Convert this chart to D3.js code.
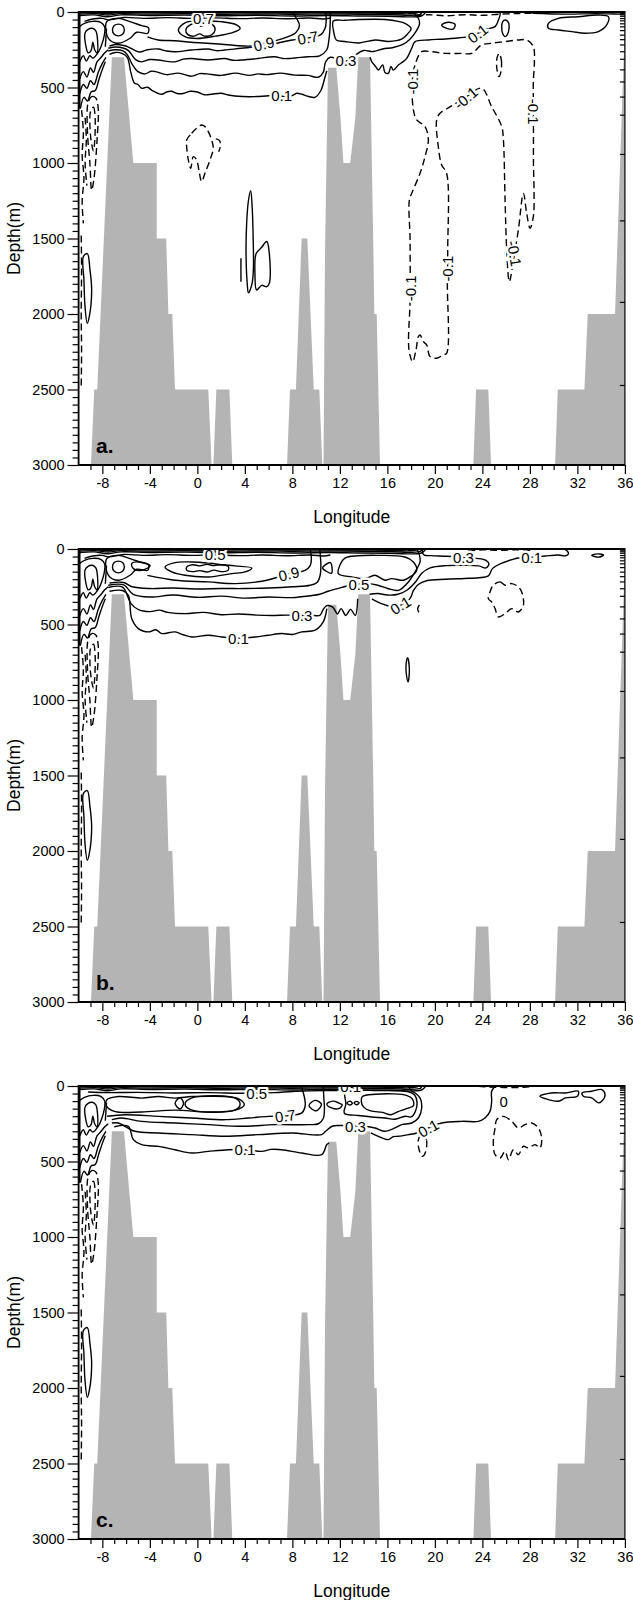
<!DOCTYPE html>
<html>
<head>
<meta charset="utf-8">
<title>Sections</title>
<script src="https://cdn.jsdelivr.net/npm/d3@7"></script>
<style>
body { margin: 0; background: #fff; }
text { font-family: "Liberation Sans", Arial, Helvetica, sans-serif; fill: #000; }
.topo { fill: #b4b4b4; stroke: none; }
.cl { fill: none; stroke: #000; stroke-width: 1.4px; stroke-linejoin: round; }
.cl.dash { stroke-dasharray: 7,4; }
.lab { font-size: 15px; paint-order: stroke; stroke: #fff; stroke-width: 5px; stroke-linejoin: round; }
.tick text { font-size: 14.5px; }
.axis path.domain { display: none; }
.axis line { stroke: #000; stroke-width: 1.2px; }
.spine { stroke: #000; fill: none; }
.title { font-size: 17.5px; }
.tag { font-size: 21px; font-weight: bold; }
</style>
</head>
<body>
<svg id="fig" width="633" height="1600"></svg>
<script>
// ---- ticks ----
var lonMajor = [-8, -4, 0, 4, 8, 12, 16, 20, 24, 28, 32, 36];
var depthMajor = [0, 500, 1000, 1500, 2000, 2500, 3000];
var levelTicks = [5, 15, 25, 40, 55, 75, 95, 120, 150, 180, 215, 260, 310, 380, 460, 560, 680, 940, 1380, 1920, 2470];

// ---- bottom topography (lon, depth) ----
var topo = [[-8.96,3000],[-8.68,2500],[-8.43,2500],[-7.2,300],[-6.18,300],[-5.39,1000],[-3.42,1000],
  [-3.42,1500],[-2.62,1500],[-2.44,2000],[-2.11,2000],[-1.88,2500],[0.92,2500],[1.2,3000],[1.35,3000],
  [1.6,2500],[2.7,2500],[2.94,3000],[7.55,3000],[7.8,2500],[8.3,2500],[8.78,1500],[9.26,1500],[9.8,2500],
  [10.27,2500],[10.52,3000],[10.62,3000],[10.75,1576],[11.0,370],[11.7,370],[12.05,700],[12.3,1000],
  [12.87,1000],[13.3,700],[13.55,300],[14.54,300],[14.82,1576],[14.9,2000],[15.1,2000],[15.38,3000],
  [23.24,3000],[23.47,2500],[24.5,2500],[24.73,3000],[30.12,3000],[30.35,2500],[32.59,2500],[32.87,2000],
  [35.17,2000],[35.35,1576],[36,60],[36,3000]];

// ---- contours shared by the three sections ----
var surfL1 = [[-9.9,6],[-8.5,5],[-7.4,11],[-6.6,4],[-5,6],[-2,5],[1,7],[4,5],[7,7],[10,5],[13,7],[16,8],[17.8,12],[18.5,6],[18.6,0]];
var surfL2 = [[-9.9,14],[-8.6,11],[-7.5,20],[-6.5,11],[-4.5,14],[-1,12],[2,15],[5,13],[8,15],[11,13],[14,15],[16.5,18],[17.9,22],[18.8,14],[18.9,0]];
var surfL3 = [[-9.9,24],[-8.7,19],[-7.6,31],[-6.4,19],[-4,23],[-1,21],[2,25],[5,22],[8,26],[11,23],[13.5,26],[16,28],[17.7,32],[18.8,28],[19.1,14],[19.2,0]];
var surfL4 = [[-9.5,62],[-8.8,46],[-8.0,42],[-7.5,52],[-6.2,36],[-4.5,42],[-2.5,37],[-0.5,42],[1.5,39],[3.5,44],[5.5,40],[7.5,45],[9.5,40],[10.6,46],[11.2,40]];
var coastWall = [[-9.93,0],[-9.93,640]];
var coastLoop = [[-9.46,140],[-9.2,115],[-8.85,108],[-8.55,125],[-8.4,190],[-8.45,270],[-8.65,250],[-8.8,200],[-8.95,255],[-9.2,270],[-9.4,220]];
var coastZ1 = [[-9.9,330],[-9.6,290],[-9.35,325],[-9.05,290],[-8.8,305],[-8.3,260],[-8.05,215],[-7.85,160],[-7.8,100],[-8.1,70],[-8.8,62],[-9.5,75],[-9.9,95]];
var coastZ2 = [[-9.9,440],[-9.6,395],[-9.3,430],[-9.0,370],[-8.75,400],[-8.45,330],[-8.1,300],[-7.8,270],[-7.5,250]];
var coastZ3 = [[-9.9,540],[-9.6,480],[-9.3,505],[-9.0,455],[-8.7,480],[-8.35,400],[-8.0,340],[-7.7,300]];
var coastZ4 = [[-9.85,640],[-9.55,565],[-9.25,590],[-8.95,530],[-8.6,520],[-8.3,450],[-8.0,380],[-7.75,330]];
var coastV = [[-7.65,110],[-7.7,170],[-7.75,230]];
var coastD1 = [[-9.2,600],[-8.9,560],[-8.55,570],[-8.35,640],[-8.45,850],[-8.7,1100],[-8.9,1180],[-9.05,1000],[-9.25,800]];
var coastD2 = [[-9.0,660],[-8.75,630],[-8.6,720],[-8.75,920],[-8.95,850],[-9.05,740]];
var coastD3 = [[-9.75,650],[-9.6,800],[-9.7,950],[-9.55,1100],[-9.7,1250],[-9.6,1400]];
var coastD4 = [[-9.78,1480],[-9.75,1700],[-9.78,2000],[-9.75,2250],[-9.78,2480]];
var coastD5 = [[-9.45,700],[-9.35,850],[-9.45,1000],[-9.3,1150]];
var deepLoop = [[-9.6,1620],[-9.27,1600],[-9.04,1709],[-8.9,1841],[-9.1,2018],[-9.27,2062],[-9.46,1951],[-9.55,1775]];
var eddyIn = [[-6.65,80],[-6.3,90],[-6.15,119],[-6.3,148],[-6.65,158],[-7.0,148],[-7.15,119],[-7.0,90]];
var eddyRing = [[-7.63,64],[-6.65,42],[-5.67,64],[-4.69,90],[-4.12,104],[-4.18,141],[-5.11,134],[-5.67,174],[-6.65,207],[-7.49,174]];

// ---- section a ----
var a09 = [[-4.2,165],[-3.3,185],[-1.9,190],[-0.5,200],[1.5,210],[3.2,222],[4.6,225],[5.6,208],[6.5,192],[7.6,165],[8.3,135],[8.6,90],[8.4,50],[8.0,0]];
var a07 = [[-7.4,225],[-6.9,215],[-6.2,222],[-5.8,232],[-4.9,265],[-4.2,250],[-3.3,245],[-2.6,258],[-1.9,263],[-0.5,252],[0.9,245],[1.6,256],[2.3,252],[3.7,240],[4.8,232],[5.9,220],[6.8,205],[8.0,185],[9.0,176],[9.8,165],[10.4,150],[10.75,110],[10.85,60],[10.8,0]];
var a05 = [[-7.5,240],[-6.9,232],[-6.2,240],[-5.8,256],[-5.2,315],[-4.7,330],[-4.0,315],[-3.3,318],[-1.9,330],[-1.2,312],[-0.5,308],[0.9,318],[2.3,308],[3.0,320],[3.7,318],[5.1,308],[6.5,296],[7.2,308],[7.9,307],[9.3,296],[10.3,290],[10.9,250],[11.05,200],[11.15,130],[11.2,40],[11.2,0]];
var a03 = [[-7.5,258],[-6.9,250],[-6.3,256],[-5.9,282],[-5.5,345],[-5.0,395],[-4.4,410],[-3.9,392],[-3.5,395],[-2.6,415],[-1.6,405],[-0.5,425],[0.2,408],[0.8,410],[2.0,420],[3.2,405],[4.4,420],[5.1,410],[5.8,415],[7.0,405],[8.2,418],[9.3,420],[10.2,432],[10.6,400],[10.8,330],[11.2,300],[12.0,318],[12.8,322],[13.4,280],[14.0,255],[14.8,262],[15.6,245],[16.5,235],[17.3,215],[17.9,180],[18.4,130],[18.7,80],[18.6,40],[18.3,15],[18.0,0]];
var a01 = [[-7.4,280],[-6.9,268],[-6.3,275],[-5.9,300],[-5.6,400],[-5.3,470],[-5.0,480],[-4.7,505],[-4.2,498],[-3.8,520],[-3.0,545],[-2.6,530],[-2.2,525],[-1.7,540],[-1.2,540],[-0.6,525],[0.0,530],[0.6,548],[1.2,545],[2.0,538],[2.6,550],[3.8,560],[5.0,560],[6.0,555],[7.9,555],[8.4,538],[8.8,545],[9.3,558],[9.9,565],[10.4,520],[10.75,430],[10.9,390]];
var a01R = [[14.54,300],[14.68,329],[15.0,360],[15.24,384],[15.6,350],[15.8,400],[16.08,406],[16.3,360],[16.5,385],[16.93,351],[17.3,330],[17.63,307],[18.05,240],[18.33,196],[19.45,185],[20.5,180],[21.7,174],[22.82,163],[23.6,142],[24.3,115],[25.07,97],[25.35,53],[25.5,10],[25.4,0]];
var aEddyIn = [[-0.97,119],[-0.6,85],[0.0,78],[0.3,95],[0.7,78],[1.3,85],[1.49,119],[1.2,152],[0.6,160],[0.2,145],[-0.3,160],[-0.8,150]];
var aEddyOut = [[-1.6,119],[-1.0,70],[0.5,60],[2.0,64],[3.3,85],[3.6,110],[2.8,140],[1.5,160],[0.0,175],[-1.0,165]];
var aLoopR = [[11.45,60],[12.4,55],[13.6,50],[15.8,50],[16.9,62],[17.6,80],[18.0,110],[17.7,145],[17.2,180],[16.1,195],[15.0,185],[13.6,205],[12.4,195],[11.7,185],[11.5,140]];
var aSmall = [[20.57,86],[21.14,68],[21.7,82],[21.56,112],[21.0,108]];
var aZero = [[25.93,53],[26.2,70],[26.24,110],[26.1,150],[25.9,163],[25.7,140],[25.63,100],[25.7,65]];
var aLoopFar = [[29.56,75],[30.4,42],[32.08,31],[33.77,20],[34.61,31],[34.47,86],[33.77,130],[32.64,141],[31.52,130],[30.4,119],[29.56,108]];
var aTopR = [[28.2,8],[31,14],[33.5,11],[35.7,14],[36,14]];
var aTopDash = [[18.3,24],[19.5,18],[21,25],[22.5,18],[24,22],[25.5,14],[27,10],[28.2,8]];
var aDashEll = [[25.4,274],[25.6,320],[25.55,400],[25.4,428],[25.25,390],[25.2,320]];
var aBigDash = [[18.33,351],[18.89,263],[19.73,263],[20.85,274],[22.26,274],[23.10,274],[23.94,218],[24.78,207],[25.91,196],[27.03,185],[27.73,185],[28.29,229],[28.38,329],[28.29,461],[28.29,600],[28.3,800],[28.3,1000],[28.35,1200],[28.3,1350],[28.01,1432],[27.73,1333],[27.45,1201],[27.03,1443],[26.6,1650],[26.27,1786],[26.05,1576],[25.91,1245],[25.77,847],[25.63,759],[24.78,627],[23.94,505],[22.5,570],[21.3,627],[20.43,671],[20.15,715],[20.29,892],[20.57,1013],[20.99,1068],[21.08,1576],[21.05,1797],[20.99,2260],[20.71,2271],[20.15,2293],[19.59,2282],[19.31,2205],[19.03,2183],[18.75,2139],[18.61,2150],[18.41,2238],[18.13,2316],[17.82,2238],[17.91,1907],[17.91,1510],[17.85,1245],[18.05,1201],[18.75,1068],[19.17,958],[19.45,847],[19.17,759],[18.47,715],[18.19,649],[18.1,450]];
var aDeep1 = [[-0.90,847],[-0.48,803],[-0.06,770],[0.36,748],[0.64,759],[0.92,792],[1.20,847],[1.34,903],[1.06,980],[0.64,1068],[0.36,1123],[0.17,1068],[-0.06,980],[-0.34,958],[-0.56,1035],[-0.76,980],[-0.90,891]];
var aDeep2 = [[1.55,840],[1.85,850],[1.95,880],[1.8,925]];
var aThin1 = [[4.49,1183],[4.62,1300],[4.7,1500],[4.72,1700],[4.6,1800],[4.3,1860],[4.2,1800],[4.1,1600],[4.15,1400],[4.3,1250]];
var aThin2 = [[5.84,1520],[6.06,1600],[6.06,1797],[5.84,1819],[5.41,1810],[4.99,1841],[4.85,1731],[4.95,1600],[5.4,1560]];
var aShort = [[3.67,1631],[3.67,1786]];

// ---- section b ----
var bFish = [[-5.53,97],[-4.83,86],[-3.98,112],[-4.69,141],[-5.39,130]];
var bOuter = [[-2.72,119],[-1.88,90],[-0.48,86],[0.93,93],[2.05,104],[3.17,112],[4.58,126],[4.02,152],[2.89,163],[0.93,185],[-1.04,174],[-2.16,152]];
var bInner = [[-0.9,120],[-0.4,104],[0.2,112],[0.8,102],[1.4,110],[2.0,104],[2.6,115],[2.6,140],[2.0,150],[1.4,140],[0.8,152],[0.2,143],[-0.4,150],[-0.9,140]];
var bTri = [[10.55,125],[11.2,90],[11.3,160]];
var b09 = [[-4.2,175],[-1.88,207],[0.93,218],[3.17,229],[5.42,214],[6.54,192],[7.66,163],[9.07,141],[9.5,110],[9.6,60],[9.5,0]];
var b07 = [[-7.4,225],[-6.2,222],[-5.5,250],[-4,262],[-2,258],[0,265],[2,262],[4,262],[6,258],[8,250],[9.5,240],[10.1,220],[10.35,170],[10.4,100],[10.35,40],[10.3,0]];
var b05 = [[-7.5,240],[-6.2,238],[-5.4,300],[-4,318],[-2,305],[0,320],[2,312],[4,325],[6,318],[8,322],[9.5,310],[10.3,300],[11.0,280],[11.8,262],[12.6,245],[13.6,232],[14.4,229],[15.2,240],[16.08,263],[16.93,274],[17.77,218],[18.33,152],[18.75,86],[18.7,40],[18.5,0]];
var b03 = [[-7.5,255],[-6.3,252],[-5.6,360],[-5.0,400],[-4,415],[-3.2,405],[-2.5,420],[-1,428],[0.5,420],[2,435],[3.5,430],[5,438],[6.5,440],[7.5,438],[8.8,440],[9.6,438],[10.3,440],[10.6,400],[10.9,375],[11.4,385],[11.8,430],[12.1,395],[12.5,440],[12.9,400],[13.3,440],[13.5,330]];
var b01 = [[-7.4,280],[-6.3,275],[-5.81,307],[-5.53,461],[-4.97,527],[-4.12,549],[-3.5,535],[-3.0,560],[-1.88,549],[-1.2,568],[-0.48,583],[0.93,571],[2.05,583],[3.45,590],[4.86,583],[5.98,571],[7.1,560],[8.0,566],[8.79,549],[9.91,538],[10.6,483],[10.9,395]];
var b03R = [[14.5,300],[15.2,295],[16.0,305],[16.9,300],[17.7,270],[18.4,215],[18.9,160],[19.6,125],[21,110],[22.5,108],[23.7,112],[24.3,125],[24.55,100],[24.3,75],[23.5,62],[22.4,56],[21,48],[19.7,44],[19.1,40],[18.95,20],[19.0,0]];
var b01R = [[14.7,330],[15.5,362],[16.3,380],[17.1,373],[17.9,329],[18.2,274],[18.6,235],[19.3,210],[20.9,200],[22.5,195],[23.7,190],[24.5,178],[24.85,130],[25.6,95],[26.5,70],[27.0,60],[28.15,54],[29.3,46],[30.4,40],[31.0,45],[31.25,30],[31.1,10],[30.9,0]];
var bLoopR = [[11.87,163],[12.0,108],[12.43,60],[13.5,45],[15.24,42],[17.49,53],[18.19,86],[18.47,141],[17.91,185],[17.35,207],[16.36,196],[15.8,207],[14.96,174],[14.12,196],[13.0,185]];
var bEll = [[33.2,42],[33.7,32],[34.2,40],[33.8,54]];
var bEll800 = [[17.7,720],[17.85,790],[17.75,880],[17.6,830],[17.58,760]];
var bParen = [[18.7,370],[18.55,395],[18.65,420]];
var bDash = [[24.92,240],[25.49,218],[25.91,240],[26.47,229],[27.03,251],[27.31,285],[27.45,373],[27.03,417],[26.47,395],[25.91,428],[25.35,450],[25.07,395],[24.78,351],[24.5,329],[24.64,285]];
var bTopDash = [[22.8,12],[24,6],[25.5,9],[27,5],[28.3,10]];

// ---- section c ----
var c05top = [[-9.2,40],[-7.5,44],[-5,42],[-2,46],[1,44],[3.5,48],[5.0,47],[6.5,44],[8,36],[9.5,32],[10.8,30],[11.8,30]];
var cBig = [[-7.63,92],[-6.65,70],[-4.69,80],[-3.28,70],[-1.88,80],[-0.48,70],[0.93,68],[2.33,70],[3.55,88],[3.95,125],[3.2,160],[0.93,172],[-1.88,160],[-4.69,172],[-6.9,170],[-7.63,135]];
var cHex = [[-1.04,120],[-0.5,80],[3.2,80],[3.6,120],[3.2,158],[-0.5,158]];
var cDiamond = [[-1.88,115],[-1.45,78],[-1.17,115],[-1.45,152]];
var c07 = [[-7.6,200],[-6.09,190],[-3.28,201],[-0.48,212],[2.33,223],[4.3,212],[5.98,201],[7.4,198],[8.8,178],[9.07,135],[9.07,100],[8.9,40],[8.7,0]];
var c05 = [[-7.2,223],[-6.4,212],[-4.69,234],[-1.88,245],[0.93,256],[3.74,267],[6.54,256],[9.35,256],[10.2,250],[10.6,215],[10.7,150],[10.65,80],[10.6,0]];
var c03 = [[-7.2,245],[-6.65,245],[-5.25,300],[-3.28,311],[-0.48,322],[2.33,333],[5.14,322],[7.95,311],[10.47,322],[10.8,300],[11.4,265],[12.2,262],[13.3,265],[14.1,267],[14.96,278],[15.8,300],[16.64,278],[17.2,256],[18.05,245],[18.61,212],[18.89,146],[18.75,79],[18.33,46],[18.0,30],[17.8,0]];
var c01 = [[-7.0,270],[-5.81,267],[-5.39,355],[-4.69,388],[-3.28,400],[-2.6,410],[-1.88,422],[-0.48,444],[0.93,433],[2.61,422],[4.0,422],[5.42,433],[6.2,420],[7.1,422],[8.79,444],[10.47,455],[10.9,388],[11.1,378]];
var c01R = [[14.6,310],[15.24,333],[16.08,355],[16.5,335],[16.93,333],[17.77,322],[18.47,311],[19.45,278],[20.57,245],[22.26,234],[23.66,234],[24.22,212],[24.64,168],[24.78,102],[24.78,35],[25.07,2]];
var cO1 = [[9.4,130],[9.9,95],[10.45,120],[10.0,165]];
var cO2 = [[10.9,120],[11.4,100],[11.9,112],[12.2,125],[11.9,150],[11.3,145]];
var cLoopOut = [[12.43,38],[15.24,30],[17.77,38],[18.3,60],[18.5,110],[18.35,170],[18.0,205],[17.49,200],[16.64,220],[15.8,212],[14.68,205],[13.56,195],[12.43,185],[12.35,170],[12.5,120],[12.4,60]];
var cLoopIn = [[13.9,70],[15,55],[16.5,52],[17.6,62],[18.1,85],[18.2,130],[17.6,150],[16.9,170],[16.3,190],[15.6,175],[14.6,165],[14.0,140],[13.8,100]];
var cOO1 = [[12.6,112],[12.85,100],[13.05,114],[12.85,126]];
var cOO2 = [[13.2,112],[13.42,102],[13.62,113],[13.4,124]];
var cDashEll = [[18.95,311],[19.3,360],[19.2,440],[18.95,466],[18.7,430],[18.6,360]];
var cDash = [[25.21,223],[25.77,201],[26.47,234],[27.03,278],[27.59,256],[28.15,245],[28.71,278],[28.99,344],[28.85,410],[28.43,388],[27.87,410],[27.45,399],[27.03,455],[26.61,422],[26.19,488],[25.91,433],[25.49,477],[25.07,455],[24.92,366],[25.07,278]];
var cTopDash = [[23.66,2],[24.5,6],[25.5,9],[26.5,11],[27.5,8],[28.2,3]];
var cR1 = [[28.85,68],[29.8,46],[31.0,46],[32.08,35],[32.0,68],[31.0,79],[30.4,101],[29.3,84]];
var cR2 = [[32.4,46],[33.2,35],[34.05,24],[34.33,57],[34.05,101],[33.77,112],[33.2,79],[32.5,68]];

// ---- which contours go in which section: [points, dashed, closed] ----
var shared = [[surfL1,0,0],[surfL2,0,0],[surfL3,0,0],[coastLoop,0,1],[coastZ1,0,0],[coastZ2,0,0],[coastZ3,0,0],[coastZ4,0,0],
  [coastV,0,0],[coastD1,1,1],[coastD2,1,1],[coastD3,1,0],[coastD4,1,0],[coastD5,1,0],[deepLoop,0,1]];

var linesA = shared.concat([[surfL4,0,0],[eddyIn,0,1],[eddyRing,0,1],[a09,0,0],[a07,0,0],[a05,0,0],[a03,0,0],[a01,0,0],[a01R,0,0],
  [aEddyIn,0,1],[aEddyOut,0,1],[aLoopR,0,1],[aSmall,0,1],[aZero,0,1],[aLoopFar,0,1],[aTopR,0,0],[aTopDash,1,0],
  [aDashEll,1,1],[aBigDash,1,1],[aDeep1,1,1],[aDeep2,1,0],[aThin1,0,1],[aThin2,0,1],[aShort,0,0]]);
// contour labels: lon, depth, text, rotation
var labelsA = [[0.5,40,"0.7",0],[5.6,212,"0.9",-14],[9.3,170,"0.7",-10],[7.1,553,"0.1",0],[12.5,318,"0.3",0],
  [23.6,143,"0.1",-38],[18.1,460,"-0.1",-90],[22.6,570,"-0.1",-40],[28.3,660,"-0.1",90],[17.95,1830,"-0.1",-90],
  [21.07,1700,"-0.1",-90],[26.7,1600,"-0.1",80]];

var linesB = shared.concat([[surfL4,0,0],[eddyIn,0,1],[eddyRing,0,1],[bFish,0,1],[bOuter,0,1],[bInner,0,1],[bTri,0,1],
  [b09,0,0],[b07,0,0],[b05,0,0],[b03,0,0],[b01,0,0],[b03R,0,0],[b01R,0,0],[bLoopR,0,1],[bEll,0,1],[bEll800,0,1],
  [bParen,0,0],[bDash,1,1],[bTopDash,1,0]]);
var labelsB = [[1.5,34,"0.5",0],[7.7,165,"0.9",-14],[8.8,440,"0.3",0],[3.45,590,"0.1",0],[13.6,232,"0.5",0],
  [17.1,373,"0.1",-32],[22.4,56,"0.3",0],[28.15,53,"0.1",0]];

var linesC = shared.concat([[c05top,0,0],[cBig,0,1],[cHex,0,1],[cDiamond,0,1],[c07,0,0],[c05,0,0],[c03,0,0],[c01,0,0],[c01R,0,0],
  [cO1,0,1],[cO2,0,1],[cLoopOut,0,1],[cLoopIn,0,1],[cOO1,0,1],[cOO2,0,1],[cDashEll,1,1],[cDash,1,1],[cTopDash,1,0],
  [cR1,0,1],[cR2,0,1]]);
var labelsC = [[5.0,47,"0.5",0],[12.9,6,"0.1",0],[7.4,198,"0.7",-8],[13.3,265,"0.3",0],[4.0,422,"0.1",0],
  [19.45,280,"0.1",-30],[25.8,102,"0",0]];

var panels = [
  {top: 12, lines: linesA, labels: labelsA, tag: "a."},
  {top: 549, lines: linesB, labels: labelsB, tag: "b."},
  {top: 1086, lines: linesC, labels: labelsC, tag: "c."}
];

var xL = 78.6, xR = 624.9, ph = 453;
var svg = d3.select("#fig");
var x = d3.scaleLinear().domain([-10, 36]).range([xL, xR]);

panels.forEach(function(p, i) {
  var y = d3.scaleLinear().domain([0, 3000]).range([p.top, p.top + ph]);
  var g = svg.append("g");

  g.append("clipPath").attr("id", "clip" + i)
    .append("rect").attr("x", xL).attr("y", p.top).attr("width", xR - xL).attr("height", ph);

  var body = g.append("g").attr("clip-path", "url(#clip" + i + ")");

  var area = d3.line().x(function(d) { return x(d[0]); }).y(function(d) { return y(d[1]); });
  body.append("path").attr("class", "topo").attr("d", area(topo) + "Z");

  var open = d3.line().curve(d3.curveCatmullRom.alpha(0.5))
    .x(function(d) { return x(d[0]); }).y(function(d) { return y(d[1]); });
  var closed = d3.line().curve(d3.curveCatmullRomClosed.alpha(0.5))
    .x(function(d) { return x(d[0]); }).y(function(d) { return y(d[1]); });

  body.selectAll("path.cl").data(p.lines).enter().append("path")
    .attr("class", function(d) { return d[1] ? "cl dash" : "cl"; })
    .attr("d", function(d) { return d[2] ? closed(d[0]) : open(d[0]); });

  body.append("path").attr("class", "cl").style("stroke-width", "2.2px").attr("d", open(coastWall));

  body.selectAll("text.lab").data(p.labels).enter().append("text")
    .attr("class", "lab")
    .attr("text-anchor", "middle")
    .attr("dominant-baseline", "central")
    .attr("transform", function(d) {
      return "translate(" + x(d[0]) + "," + y(d[1]) + ") rotate(" + d[3] + ")";
    })
    .text(function(d) { return d[2]; });

  // axes
  var lonMinor = d3.range(-9, 37).filter(function(v) { return lonMajor.indexOf(v) < 0; });
  var depthMinor = d3.range(50, 3000, 50).filter(function(v) { return v % 500 !== 0; });

  g.append("g").attr("class", "axis").attr("transform", "translate(0," + (p.top + ph) + ")")
    .call(d3.axisBottom(x).tickValues(lonMajor).tickSize(9).tickSizeOuter(0).tickPadding(4)
      .tickFormat(function(d) { return String(d); }));
  g.append("g").attr("class", "axis").attr("transform", "translate(0," + (p.top + ph) + ")")
    .call(d3.axisBottom(x).tickValues(lonMinor).tickSize(5).tickSizeOuter(0).tickFormat(""));

  g.append("g").attr("class", "axis").attr("transform", "translate(" + xL + ",0)")
    .call(d3.axisLeft(y).tickValues(depthMajor).tickSize(11).tickSizeOuter(0).tickPadding(3)
      .tickFormat(function(d) { return String(d); }));
  g.append("g").attr("class", "axis").attr("transform", "translate(" + xL + ",0)")
    .call(d3.axisLeft(y).tickValues(depthMinor).tickSize(6).tickSizeOuter(0).tickFormat(""));

  g.append("g").attr("class", "axis").attr("transform", "translate(" + xR + ",0)")
    .call(d3.axisLeft(y).tickValues(levelTicks).tickSize(5).tickSizeOuter(0).tickFormat(""));

  // frame
  g.append("line").attr("class", "spine").attr("x1", xL).attr("x2", xR).attr("y1", p.top).attr("y2", p.top).style("stroke-width", 2.2);
  g.append("line").attr("class", "spine").attr("x1", xL).attr("x2", xR).attr("y1", p.top + ph).attr("y2", p.top + ph).style("stroke-width", 2);
  g.append("line").attr("class", "spine").attr("x1", xL).attr("x2", xL).attr("y1", p.top - 1).attr("y2", p.top + ph + 1).style("stroke-width", 1.8);
  g.append("line").attr("class", "spine").attr("x1", xR).attr("x2", xR).attr("y1", p.top - 1).attr("y2", p.top + ph).style("stroke-width", 1.2);

  g.append("text").attr("class", "tag").attr("x", 96).attr("y", p.top + 441).text(p.tag);

  g.append("text").attr("class", "title").attr("text-anchor", "middle")
    .attr("x", (xL + xR) / 2).attr("y", p.top + ph + 58).text("Longitude");
  g.append("text").attr("class", "title").attr("text-anchor", "middle")
    .attr("transform", "translate(20," + (p.top + ph / 2) + ") rotate(-90)").text("Depth(m)");
});
</script>
</body>
</html>
